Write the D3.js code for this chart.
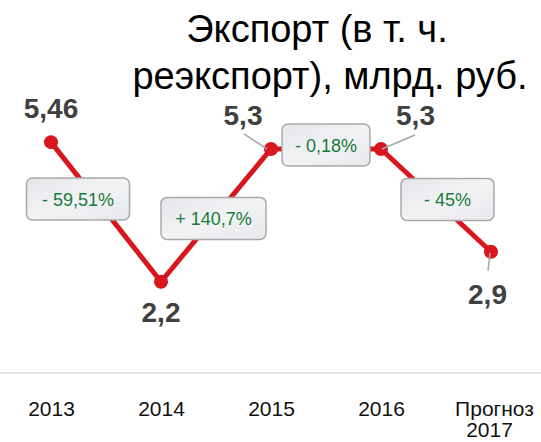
<!DOCTYPE html>
<html><head><meta charset="utf-8">
<script src="https://cdn.jsdelivr.net/npm/d3@7"></script>
<style>
html,body{margin:0;padding:0;background:#fff;overflow:hidden}
svg{display:block;font-family:"Liberation Sans",Arial,sans-serif}
</style></head>
<body>
<svg id="chart" width="541" height="442"></svg>
<script>
// ---- data ----
const categories = ["2013", "2014", "2015", "2016", "Прогноз\n2017"];
const values = [5.46, 2.2, 5.3, 5.3, 2.9];
const valueLabels = ["5,46", "2,2", "5,3", "5,3", "2,9"];
const changeLabels = ["- 59,51%", "+ 140,7%", "- 0,18%", "- 45%"];
const titleLines = ["Экспорт (в т. ч.", "реэкспорт), млрд. руб."];

// ---- layout (annotation placement) ----
const labelOffsets = [[0,-24],[0,40],[-28,-24],[34.5,-24],[-3.5,52]];
const leaderLines = [null, null, [[-27,-15],[-4,0]], [[34,-14],[1,0]], [[-1,1],[-3,19]]];
const boxLayout = [{dx:-28,dy:-13,w:103},{dx:-2.5,dy:3,w:105},{dx:0,dy:-4,w:88},{dx:11.5,dy:-1,w:93}];

const svg = d3.select("#chart");
const W = 541, H = 442;
const FONT = '"Liberation Sans", Arial, sans-serif';

const x = d3.scalePoint().domain(categories).range([51, 491]);
const y = d3.scaleLinear().domain([0, 6]).range([376, 119]);

// gradient for boxes
const defs = svg.append("defs");
const g = defs.append("linearGradient").attr("id","boxg").attr("x1","0").attr("y1","0").attr("x2","1").attr("y2","1");
g.append("stop").attr("offset","0%").attr("stop-color","#e3e5e8");
g.append("stop").attr("offset","50%").attr("stop-color","#f2f3f5");
g.append("stop").attr("offset","100%").attr("stop-color","#e6e8eb");

// title
svg.append("g").selectAll("text").data(titleLines).join("text")
  .attr("x", (d,i) => i === 0 ? 317 : 330)
  .attr("y", (d,i) => 42 + i*47)
  .attr("text-anchor","middle")
  .attr("font-family", FONT)
  .attr("font-size", 38)
  .attr("fill","#000")
  .text(d => d);

// baseline
svg.append("line").attr("x1",0).attr("x2",W).attr("y1",373).attr("y2",373)
  .attr("stroke","#d9d9d9").attr("stroke-width",1.5);

// x axis labels
const xa = svg.append("g").attr("transform","translate(0,416)")
  .call(d3.axisBottom(x).tickSize(0).tickFormat(""));
xa.attr("font-family", FONT);
xa.select(".domain").remove();
xa.selectAll(".tick").each(function(d){
  const t = d3.select(this).append("text").attr("text-anchor","middle")
    .attr("font-family", FONT)
    .attr("font-size",21).attr("fill","#111");
  d.split("\n").forEach((s,i)=>{
    t.append("tspan").attr("x", i===0 && d.includes("\n") ? 3 : (d.includes("\n") ? -2 : 0)).attr("y", i*21).text(s);
  });
});

const pts = categories.map((c,i)=>({c, v:values[i], i}));

// line
svg.append("path").datum(pts)
  .attr("fill","none").attr("stroke","#d7161e").attr("stroke-width",5)
  .attr("stroke-linejoin","round")
  .attr("d", d3.line().x(d=>x(d.c)).y(d=>y(d.v)));

// points
svg.append("g").selectAll("circle").data(pts).join("circle")
  .attr("cx", d=>x(d.c)).attr("cy", d=>y(d.v)).attr("r",7)
  .attr("fill","#d7161e");

// leader lines
svg.append("g").selectAll("line").data(pts.filter(d=>leaderLines[d.i])).join("line")
  .attr("x1", d=>x(d.c)+leaderLines[d.i][0][0]).attr("y1", d=>y(d.v)+leaderLines[d.i][0][1])
  .attr("x2", d=>x(d.c)+leaderLines[d.i][1][0]).attr("y2", d=>y(d.v)+leaderLines[d.i][1][1])
  .attr("stroke","#a6a6a6").attr("stroke-width",1.5);

// value labels
svg.append("g").selectAll("text").data(pts).join("text")
  .attr("x", d=>x(d.c)+labelOffsets[d.i][0])
  .attr("y", d=>y(d.v)+labelOffsets[d.i][1])
  .attr("text-anchor","middle").attr("font-size",28).attr("font-weight","bold")
  .attr("font-family", FONT)
  .attr("fill","#404040")
  .text(d=>valueLabels[d.i]);

// change boxes
const segs = changeLabels.map((t,i)=>{
  const a = pts[i], b = pts[i+1];
  return {t, i, mx:(x(a.c)+x(b.c))/2 + boxLayout[i].dx, my:(y(a.v)+y(b.v))/2 + boxLayout[i].dy, w:boxLayout[i].w};
});
const bx = svg.append("g").selectAll("g").data(segs).join("g")
  .attr("transform", d=>`translate(${d.mx},${d.my})`);
bx.append("rect").attr("x",d=>-d.w/2).attr("y",-21).attr("width",d=>d.w).attr("height",42)
  .attr("rx",6).attr("fill","url(#boxg)").attr("stroke","#a9a9a9").attr("stroke-width",1.5);
bx.append("text").attr("text-anchor","middle").attr("y",7).attr("font-size",18)
  .attr("font-family", FONT)
  .attr("fill","#1b7a3c").text(d=>d.t);
</script>
</body></html>
